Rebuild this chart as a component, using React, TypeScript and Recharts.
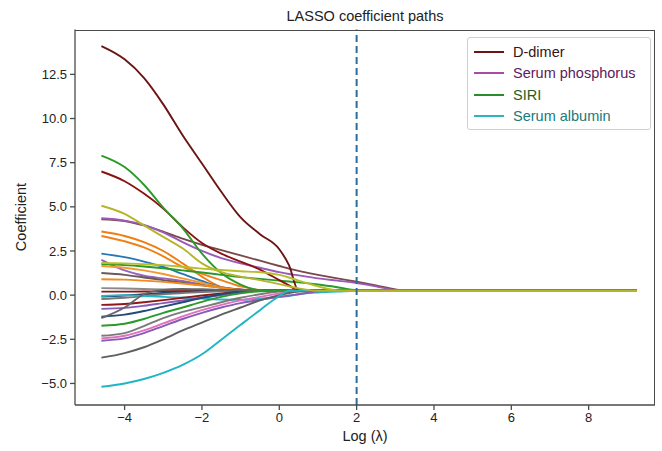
import { LineChart, Line, XAxis, YAxis, ReferenceLine } from "recharts";

// log(lambda) grid the paths are sampled on
const LOG_LAMBDA = [-4.6, -4, -3.5, -3, -2.5, -2, -1.5, -1, -0.5, 0, 0.25, 0.5, 1, 1.5, 2, 2.5, 3, 3.3, 9.25];

const X_TICKS = [-4, -2, 0, 2, 4, 6, 8];
const Y_TICKS = [-5, -2.5, 0, 2.5, 5, 7.5, 10, 12.5];
const X_DOMAIN = [-5.283, 9.716];
const Y_DOMAIN = [-6.22, 15.04];
const OPTIMAL_LOG_LAMBDA = 2;

// coefficient paths, one value per LOG_LAMBDA point
const ORANGE_A = [3.6, 3.35, 3.0, 2.5, 1.8, 1.05, 0.45, 0.25, 0.25, 0.25, 0.25, 0.25, 0.25, 0.25, 0.25, 0.25, 0.25, 0.25, 0.25];
const ORANGE_B = [3.35, 3.05, 2.7, 2.2, 1.6, 1.2, 0.85, 0.5, 0.3, 0.25, 0.25, 0.25, 0.25, 0.25, 0.25, 0.25, 0.25, 0.25, 0.25];
const BLUE_A = [2.35, 2.15, 1.9, 1.6, 1.2, 0.8, 0.45, 0.28, 0.25, 0.25, 0.25, 0.25, 0.25, 0.25, 0.25, 0.25, 0.25, 0.25, 0.25];
const PURPLE_B = [2.0, 1.4, 1.1, 0.95, 0.8, 0.6, 0.45, 0.32, 0.25, 0.25, 0.25, 0.25, 0.25, 0.25, 0.25, 0.25, 0.25, 0.25, 0.25];
const ORANGE_C = [1.65, 1.55, 1.4, 1.2, 0.95, 0.7, 0.45, 0.3, 0.25, 0.25, 0.25, 0.25, 0.25, 0.25, 0.25, 0.25, 0.25, 0.25, 0.25];
const GRAY_A = [1.25, 1.15, 1.0, 0.85, 0.7, 0.55, 0.42, 0.32, 0.25, 0.25, 0.25, 0.25, 0.25, 0.25, 0.25, 0.25, 0.25, 0.25, 0.25];
const ORANGE_D = [0.9, 0.88, 0.82, 0.75, 0.65, 0.55, 0.42, 0.3, 0.25, 0.25, 0.25, 0.25, 0.25, 0.25, 0.25, 0.25, 0.25, 0.25, 0.25];
const GRAY_B = [0.4, 0.38, 0.35, 0.32, 0.3, 0.28, 0.26, 0.25, 0.25, 0.25, 0.25, 0.25, 0.25, 0.25, 0.25, 0.25, 0.25, 0.25, 0.25];
const RED_C = [0.2, 0.2, 0.21, 0.22, 0.23, 0.24, 0.25, 0.25, 0.25, 0.25, 0.25, 0.25, 0.25, 0.25, 0.25, 0.25, 0.25, 0.25, 0.25];
const NAVY_A = [-0.08, -0.02, 0.05, 0.12, 0.18, 0.22, 0.25, 0.25, 0.25, 0.25, 0.25, 0.25, 0.25, 0.25, 0.25, 0.25, 0.25, 0.25, 0.25];
const GRAY_C = [-0.22, -0.15, -0.05, 0.05, 0.12, 0.18, 0.22, 0.25, 0.25, 0.25, 0.25, 0.25, 0.25, 0.25, 0.25, 0.25, 0.25, 0.25, 0.25];
const CYAN_B = [-0.05, 0.0, -0.05, -0.1, -0.15, -0.2, -0.25, -0.27, -0.2, -0.1, -0.05, 0.05, 0.15, 0.2, 0.25, 0.25, 0.25, 0.25, 0.25];
const RED_D = [-0.55, -0.5, -0.4, -0.28, -0.15, -0.02, 0.1, 0.2, 0.25, 0.25, 0.25, 0.25, 0.25, 0.25, 0.25, 0.25, 0.25, 0.25, 0.25];
const PURPLE_C = [-0.78, -0.72, -0.6, -0.45, -0.3, -0.15, 0.0, 0.15, 0.25, 0.25, 0.25, 0.25, 0.25, 0.25, 0.25, 0.25, 0.25, 0.25, 0.25];
const NAVY_B = [-1.22, -1.1, -0.9, -0.65, -0.4, -0.15, 0.05, 0.2, 0.25, 0.25, 0.25, 0.25, 0.25, 0.25, 0.25, 0.25, 0.25, 0.25, 0.25];
const GRAY_D = [-1.3, -0.7, 0.05, 0.3, 0.35, 0.33, 0.3, 0.27, 0.25, 0.25, 0.25, 0.25, 0.25, 0.25, 0.25, 0.25, 0.25, 0.25, 0.25];
const GREEN_C = [-1.73, -1.62, -1.35, -1.0, -0.7, -0.38, -0.1, 0.1, 0.22, 0.25, 0.25, 0.25, 0.25, 0.25, 0.25, 0.25, 0.25, 0.25, 0.25];
const GRAY_E = [-2.3, -2.15, -1.75, -1.3, -0.95, -0.68, -0.4, -0.15, 0.05, 0.2, 0.25, 0.25, 0.25, 0.25, 0.25, 0.25, 0.25, 0.25, 0.25];
const PINK_A = [-2.45, -2.3, -2.0, -1.6, -1.2, -0.85, -0.55, -0.3, -0.1, 0.1, 0.2, 0.25, 0.25, 0.25, 0.25, 0.25, 0.25, 0.25, 0.25];
const PURPLE_D = [-2.58, -2.45, -2.15, -1.75, -1.35, -1.0, -0.7, -0.45, -0.27, -0.1, -0.02, 0.05, 0.22, 0.25, 0.25, 0.25, 0.25, 0.25, 0.25];
const GRAY_F = [-3.54, -3.28, -2.95, -2.5, -2.0, -1.55, -1.1, -0.7, -0.3, 0.0, 0.12, 0.2, 0.25, 0.25, 0.25, 0.25, 0.25, 0.25, 0.25];
const GREEN_B = [1.76, 1.7, 1.62, 1.52, 1.4, 1.28, 1.15, 1.02, 0.92, 0.82, 0.77, 0.72, 0.6, 0.45, 0.28, 0.25, 0.25, 0.25, 0.25];
const BROWN_A = [4.3, 4.2, 3.95, 3.6, 3.2, 2.85, 2.55, 2.25, 1.95, 1.65, 1.5, 1.37, 1.15, 0.95, 0.76, 0.55, 0.32, 0.25, 0.25];
const SERUM_PHOSPHORUS = [4.35, 4.22, 3.97, 3.55, 3.0, 2.5, 2.1, 1.8, 1.55, 1.3, 1.2, 1.12, 0.95, 0.82, 0.68, 0.5, 0.28, 0.25, 0.25];
const RED_B = [7.0, 6.45, 5.75, 4.9, 3.85, 2.95, 2.35, 1.9, 1.45, 0.85, 0.55, 0.25, 0.25, 0.25, 0.25, 0.25, 0.25, 0.25, 0.25];
const SIRI = [7.9, 7.25, 6.25, 4.95, 3.8, 2.35, 1.25, 0.6, 0.28, 0.25, 0.25, 0.25, 0.25, 0.25, 0.25, 0.25, 0.25, 0.25, 0.25];
const D_DIMER = [14.1, 13.35, 12.3, 10.8, 9.05, 7.45, 5.85, 4.4, 3.45, 2.6, 1.7, 0.25, 0.25, 0.25, 0.25, 0.25, 0.25, 0.25, 0.25];
const SERUM_ALBUMIN = [-5.19, -5.0, -4.75, -4.4, -3.95, -3.35, -2.52, -1.68, -0.85, -0.05, 0.25, 0.25, 0.25, 0.25, 0.25, 0.25, 0.25, 0.25, 0.25];
const OLIVE_B = [1.82, 1.8, 1.75, 1.7, 1.6, 1.5, 1.42, 1.35, 1.3, 1.15, 1.0, 0.82, 0.5, 0.27, 0.25, 0.25, 0.25, 0.25, 0.25];
const OLIVE_A = [5.06, 4.6, 3.95, 3.3, 2.65, 1.8, 1.3, 1.05, 0.85, 0.62, 0.5, 0.38, 0.25, 0.25, 0.25, 0.25, 0.25, 0.25, 0.25];

const SERIES = [
  { key: "orangeA", color: "#f07c12", values: ORANGE_A },
  { key: "orangeB", color: "#f0801a", values: ORANGE_B },
  { key: "blueA", color: "#2478b5", values: BLUE_A },
  { key: "purpleB", color: "#9a62c0", values: PURPLE_B },
  { key: "orangeC", color: "#f39a2c", values: ORANGE_C },
  { key: "grayA", color: "#6a5a5a", values: GRAY_A },
  { key: "orangeD", color: "#f38a1e", values: ORANGE_D },
  { key: "grayB", color: "#8a8a8a", values: GRAY_B },
  { key: "redC", color: "#8b1616", values: RED_C },
  { key: "navyA", color: "#23436e", values: NAVY_A },
  { key: "grayC", color: "#777777", values: GRAY_C },
  { key: "cyanB", color: "#1fb8c8", values: CYAN_B },
  { key: "redD", color: "#8b1a1a", values: RED_D },
  { key: "purpleC", color: "#8a5ab8", values: PURPLE_C },
  { key: "navyB", color: "#234a78", values: NAVY_B },
  { key: "grayD", color: "#666666", values: GRAY_D },
  { key: "greenC", color: "#2a9a2a", values: GREEN_C },
  { key: "grayE", color: "#7a7a7a", values: GRAY_E },
  { key: "pinkA", color: "#e070c0", values: PINK_A },
  { key: "purpleD", color: "#8a5ab8", values: PURPLE_D },
  { key: "grayF", color: "#5f5f5f", values: GRAY_F },
  { key: "greenB", color: "#2a9a2a", values: GREEN_B },
  { key: "brownA", color: "#7b4848", values: BROWN_A },
  { key: "serumPhosphorus", color: "#9a5ab8", values: SERUM_PHOSPHORUS },
  { key: "redB", color: "#8b1212", values: RED_B },
  { key: "siri", color: "#2a9a2a", values: SIRI },
  { key: "dDimer", color: "#6b1414", values: D_DIMER },
  { key: "serumAlbumin", color: "#20b5c5", values: SERUM_ALBUMIN },
  { key: "oliveB", color: "#b8bd2a", values: OLIVE_B },
  { key: "oliveA", color: "#b5b52a", values: OLIVE_A },
];

const LEGEND = [
  { label: "D-dimer", line: "#6b1414", text: "#3a1414" },
  { label: "Serum phosphorus", line: "#a64ca6", text: "#5c205c" },
  { label: "SIRI", line: "#2a8c2a", text: "#1e5e1e" },
  { label: "Serum albumin", line: "#2bb5bf", text: "#187a7a" },
];

const rows = LOG_LAMBDA.map((x, i) => {
  const row: Record<string, number> = { x };
  SERIES.forEach((s) => {
    row[s.key] = s.values[i];
  });
  return row;
});

const fmtX = (v: number) => (v < 0 ? `\u2212${Math.abs(v)}` : `${v}`);
const fmtY = (v: number) => (v < 0 ? `\u2212${Math.abs(v).toFixed(1)}` : v.toFixed(1));

const FONT = "'Liberation Sans', Arial, Helvetica, sans-serif";
const tickStyle = { fill: "#222", fontSize: 13, fontFamily: FONT };

// plot area box (matches the chart margins + axis sizes below)
const PLOT = { left: 75, top: 29.5, width: 580, height: 375.5 };

export default function App() {
  return (
    <div style={{ position: "relative", width: 662, height: 451, background: "#fff", fontFamily: FONT }}>
      <style>{"body{margin:0}"}</style>
      <LineChart
        width={662}
        height={451}
        data={rows}
        margin={{ top: PLOT.top, right: 662 - PLOT.left - PLOT.width, bottom: 16, left: 15 }}
      >
        <XAxis
          type="number"
          dataKey="x"
          domain={X_DOMAIN}
          allowDataOverflow
          ticks={X_TICKS}
          tickFormatter={fmtX}
          tick={tickStyle}
          tickSize={5}
          tickMargin={3}
          height={30}
          stroke="#4a4a4a"
          strokeWidth={1.3}
        />
        <YAxis
          type="number"
          domain={Y_DOMAIN}
          allowDataOverflow
          ticks={Y_TICKS}
          tickFormatter={fmtY}
          tick={tickStyle}
          tickSize={5}
          tickMargin={3}
          width={60}
          stroke="#4a4a4a"
          strokeWidth={1.3}
        />
        {SERIES.map((s) => (
          <Line
            key={s.key}
            type="monotone"
            dataKey={s.key}
            stroke={s.color}
            strokeWidth={1.9}
            dot={false}
            activeDot={false}
            isAnimationActive={false}
          />
        ))}
        <ReferenceLine x={OPTIMAL_LOG_LAMBDA} stroke="#2b6c9c" strokeWidth={2} strokeDasharray="7 4" />
      </LineChart>

      {/* frame on top and right */}
      <div
        style={{
          position: "absolute",
          left: PLOT.left,
          top: PLOT.top,
          width: PLOT.width,
          height: PLOT.height,
          boxSizing: "border-box",
          borderTop: "1.3px solid #4a4a4a",
          borderRight: "1.3px solid #4a4a4a",
          pointerEvents: "none",
        }}
      />

      {/* title + axis labels */}
      <div style={{ position: "absolute", left: 75, width: 580, top: 8, textAlign: "center", fontSize: 14.5, color: "#222" }}>
        LASSO coefficient paths
      </div>
      <div style={{ position: "absolute", left: 75, width: 580, top: 428, textAlign: "center", fontSize: 14.5, color: "#222" }}>
        Log (λ)
      </div>
      <div
        style={{
          position: "absolute",
          left: 21,
          top: 217,
          transform: "translate(-50%, -50%) rotate(-90deg)",
          fontSize: 14.5,
          color: "#222",
          whiteSpace: "nowrap",
        }}
      >
        Coefficient
      </div>

      {/* legend */}
      <div
        style={{
          position: "absolute",
          left: 467,
          top: 37,
          width: 184,
          height: 93,
          boxSizing: "border-box",
          border: "1px solid #cfcfcf",
          borderRadius: 3,
          background: "rgba(255,255,255,0.9)",
          paddingTop: 3,
        }}
      >
        {LEGEND.map((l) => (
          <div key={l.label} style={{ display: "flex", alignItems: "center", height: 21.5 }}>
            <div style={{ width: 30, height: 2, background: l.line, marginLeft: 6, marginRight: 9 }} />
            <span style={{ fontSize: 14.5, color: l.text, whiteSpace: "nowrap" }}>{l.label}</span>
          </div>
        ))}
      </div>
    </div>
  );
}
